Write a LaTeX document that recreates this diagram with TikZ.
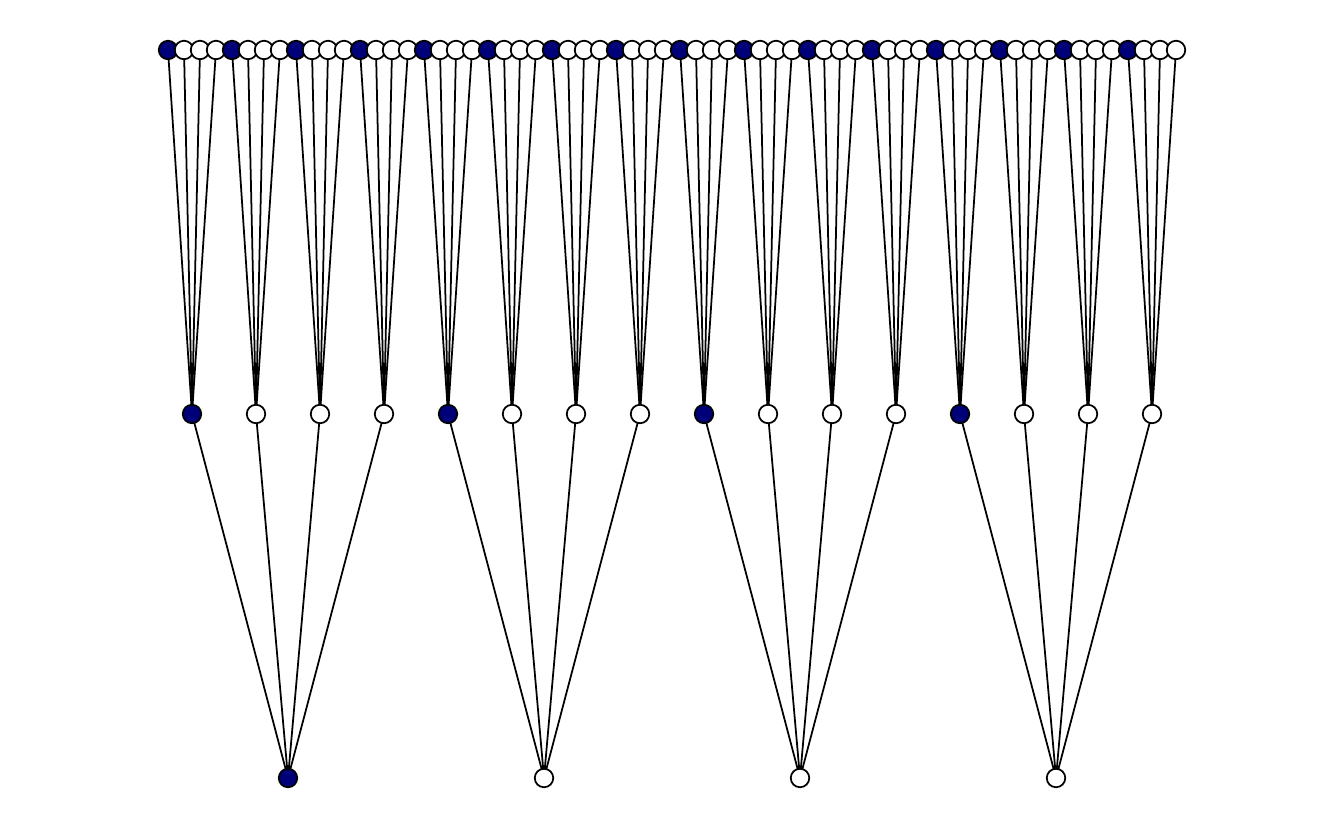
\documentclass[tikz,border=0pt]{standalone}
\usepackage{tikz}
\usetikzlibrary{backgrounds}
\definecolor{navyfill}{RGB}{0,0,120}
\tikzset{
  vertex/.style={circle, draw=black, line width=1pt, fill=white, minimum size=0.37cm, inner sep=0pt},
  marked/.style={vertex, fill=navyfill},
  edge/.style={line width=1pt}
}

\begin{document}
\begin{tikzpicture}[x=0.02cm, y=-0.02cm]
        \useasboundingbox (0,0) rectangle (1344,830);

        % Draw the roots
        \foreach \i in {0,...,3} {
                \pgfmathsetmacro\xb{288+256*\i}
                \ifnum\i=0
                    \node[marked] (b\i) at (\xb, 778) {};
                \else
                    \node[vertex] (b\i) at (\xb, 778) {};
                \fi
            }

        % Draw the middle row
        \foreach \i in {0,...,15} {
                \pgfmathsetmacro\xm{192+64*\i}
                \pgfmathtruncatemacro\r{mod(\i,4)}
                \ifnum\r=0
                    \node[marked] (m\i) at (\xm, 414) {};
                \else
                    \node[vertex] (m\i) at (\xm, 414) {};
                \fi
            }

        % Draw the leaves
        \foreach \i in {0,...,63} {
                \pgfmathsetmacro\xt{168+16*\i}
                \pgfmathtruncatemacro\r{mod(\i,4)}
                \ifnum\r=0
                    \node[marked] (t\i) at (\xt, 50) {};
                \else
                    \node[vertex] (t\i) at (\xt, 50) {};
                \fi
            }

        % Edges behind the nodes
        \begin{scope}[on background layer]
            \foreach \i in {0,...,15} {
                    \pgfmathtruncatemacro\p{\i/4}
                    \draw[edge] (m\i.center) -- (b\p.center);
                    \foreach \k in {0,...,3} {
                            \pgfmathtruncatemacro\c{4*\i+\k}
                            \draw[edge] (t\c.center) -- (m\i.center);
                        }
                }
        \end{scope}
    \end{tikzpicture}
\end{document}
